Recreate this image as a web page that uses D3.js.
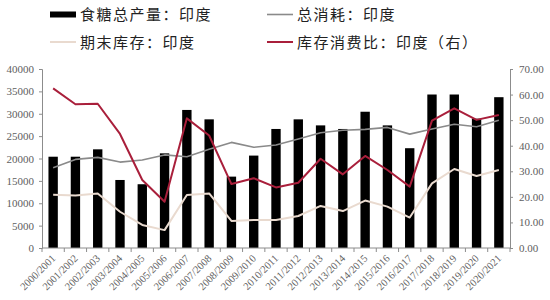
<!DOCTYPE html>
<html>
<head>
<meta charset="utf-8">
<script src="https://cdn.jsdelivr.net/npm/d3@7"></script>
<style>
  html, body { margin: 0; padding: 0; background: #fff; }
  svg { display: block; }
</style>
</head>
<body>
<div id="chart"></div>
<script>
// Sugar balance, India — seasons 2000/2001 .. 2020/2021
const seasons = [
    '2000/2001', '2001/2002', '2002/2003', '2003/2004', '2004/2005', '2005/2006', '2006/2007',
    '2007/2008', '2008/2009', '2009/2010', '2010/2011', '2011/2012', '2012/2013', '2013/2014',
    '2014/2015', '2015/2016', '2016/2017', '2017/2018', '2018/2019', '2019/2020', '2020/2021'
];
// 食糖总产量 (bars, left axis)
const production = [
    20400, 20400, 22050, 15200, 14250, 21150, 30850, 28750, 15950, 20650, 26600,
    28750, 27400, 26600, 30450, 27400, 22300, 34300, 34300, 28900, 33700
];
// 总消耗 (grey line, left axis)
const consumption = [
    17950, 19800, 20250, 19200, 19650, 20800, 20400, 22050, 23600, 22500, 23000,
    24350, 25750, 26300, 26500, 26950, 25450, 26600, 27650, 27100, 28550
];
// 期末库存 (beige line, left axis)
const endingStock = [
    11900, 11750, 12200, 8100, 5150, 4000, 11850, 12200, 6050, 6250, 6250,
    7150, 9400, 8250, 10600, 9250, 6800, 14450, 17650, 16100, 17450
];
// 库存消费比 (red line, right axis)
const stockRatio = [
    62.4, 56.2, 56.4, 44.6, 26.6, 18.1, 50.7, 44.0, 25.0, 27.3, 23.7,
    25.5, 34.9, 28.8, 36.0, 30.5, 24.0, 49.8, 54.6, 50.1, 52.0
];
const leftTicks = [0, 5000, 10000, 15000, 20000, 25000, 30000, 35000, 40000];
const rightTicks = [0, 10, 20, 30, 40, 50, 60, 70];

const legendItems = [
    { label: '食糖总产量：印度', type: 'bar', color: '#000' },
    { label: '总消耗：印度', type: 'line', color: '#8a8a8a' },
    { label: '期末库存：印度', type: 'line', color: '#e9dacf' },
    { label: '库存消费比：印度（右）', type: 'line', color: '#a91f3b' }
];

const width = 550, height = 300;
const margin = { top: 69, right: 40, bottom: 52, left: 42 };
const w = width - margin.left - margin.right;
const h = height - margin.top - margin.bottom;

const AXIS_COLOR = '#8c8c8c';
const TICK_TEXT = '#606060';
const SERIF = "'Liberation Serif', 'Times New Roman', serif";
const CJK = "'Noto Sans CJK SC', sans-serif";

const svg = d3.select('#chart').append('svg').attr('width', width).attr('height', height);
const g = svg.append('g').attr('transform', `translate(${margin.left},${margin.top})`);

const x = d3.scaleBand().domain(seasons).range([0, w]).paddingInner(0.58).paddingOuter(0.29);
const yL = d3.scaleLinear().domain([0, 40000]).range([h, 0]);
const yR = d3.scaleLinear().domain([0, 70]).range([h, 0]);
const cx = s => x(s) + x.bandwidth() / 2;

// bars
g.selectAll('rect.bar').data(seasons).enter().append('rect')
    .attr('class', 'bar')
    .attr('x', d => x(d)).attr('width', x.bandwidth())
    .attr('y', (d, i) => yL(production[i]))
    .attr('height', (d, i) => h - yL(production[i]))
    .attr('fill', '#000');

// lines
function drawLine(values, yScale, color, strokeW) {
    const line = d3.line().x((d, i) => cx(seasons[i])).y(d => yScale(d));
    g.append('path').datum(values)
        .attr('d', line).attr('fill', 'none')
        .attr('stroke', color).attr('stroke-width', strokeW)
        .attr('stroke-linejoin', 'round');
}
drawLine(consumption, yL, legendItems[1].color, 1.6);
drawLine(endingStock, yL, legendItems[2].color, 2);
drawLine(stockRatio, yR, legendItems[3].color, 2);

// axes
const leftAxis = d3.axisLeft(yL).tickValues(leftTicks).tickSize(3).tickPadding(5).tickFormat(d3.format('d'));
const rightAxis = d3.axisRight(yR).tickValues(rightTicks).tickSize(3).tickPadding(6).tickFormat(d3.format('.2f'));

// bottom axis ticks sit on the band boundaries
const bottomG = g.append('g').attr('transform', `translate(0,${h})`);
bottomG.append('line').attr('x1', 0).attr('x2', w).attr('stroke', AXIS_COLOR);
const bounds = d3.range(seasons.length + 1).map(i => i * x.step());
bottomG.selectAll('line.tk').data(bounds).enter().append('line')
    .attr('class', 'tk').attr('x1', d => d).attr('x2', d => d)
    .attr('y1', 0).attr('y2', 4).attr('stroke', AXIS_COLOR);
bottomG.selectAll('text').data(seasons).enter().append('text')
    .attr('transform', d => `translate(${cx(d) + 3},${11}) rotate(-45)`)
    .attr('text-anchor', 'end')
    .attr('font-family', SERIF).attr('font-size', 10.5)
    .attr('fill', TICK_TEXT)
    .text(d => d);

const lg = g.append('g').call(leftAxis);
const rg = g.append('g').attr('transform', `translate(${w},0)`).call(rightAxis);
[lg, rg].forEach(ax => {
    ax.select('.domain').attr('stroke', AXIS_COLOR);
    ax.selectAll('.tick line').attr('stroke', AXIS_COLOR);
    ax.selectAll('.tick text').attr('fill', TICK_TEXT).attr('font-family', SERIF).attr('font-size', 11);
});

// legend
const legendPos = [
    { x: 50, y: 14.5 }, { x: 267, y: 14.5 },
    { x: 50, y: 42 }, { x: 267, y: 42 }
];
legendItems.forEach((item, i) => {
    const p = legendPos[i];
    if (item.type === 'bar') {
        svg.append('rect').attr('x', p.x).attr('y', p.y - 3)
            .attr('width', 26).attr('height', 6).attr('fill', item.color);
    } else {
        svg.append('line').attr('x1', p.x).attr('x2', p.x + 26)
            .attr('y1', p.y).attr('y2', p.y)
            .attr('stroke', item.color).attr('stroke-width', i === 1 ? 1.6 : 2);
    }
    svg.append('text').attr('x', p.x + 30).attr('y', p.y + 5.5)
        .attr('font-family', CJK).attr('font-size', 15)
        .attr('letter-spacing', 1.5).attr('fill', '#222')
        .text(item.label);
});
</script>
</body>
</html>
